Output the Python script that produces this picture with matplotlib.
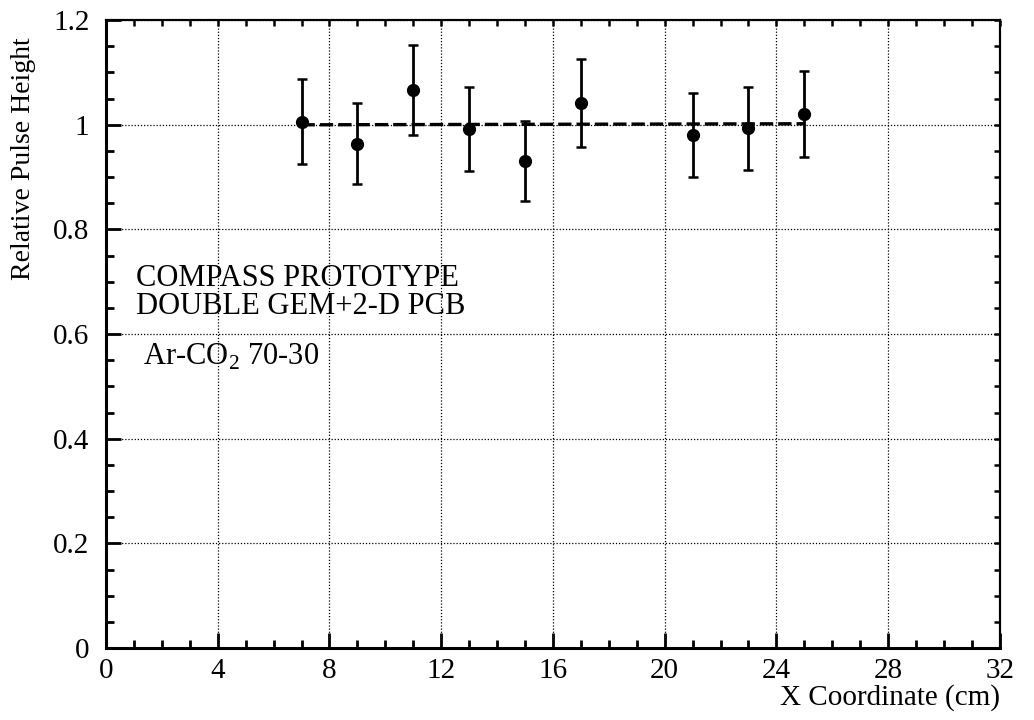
import matplotlib
matplotlib.use("Agg")
import matplotlib.pyplot as plt
from matplotlib.ticker import MultipleLocator, FixedFormatter, FixedLocator

# Data
x_cm = [7, 9, 11, 13, 15, 17, 21, 23, 25]
pulse = [1.006, 0.964, 1.067, 0.992, 0.931, 1.041, 0.980, 0.993, 1.020]
err = [0.081, 0.078, 0.086, 0.081, 0.076, 0.084, 0.080, 0.080, 0.082]
fit_x = [7, 25]
fit_y = [1.000, 1.002]

xticks = [0, 4, 8, 12, 16, 20, 24, 28, 32]
yticks = [0, 0.2, 0.4, 0.6, 0.8, 1.0, 1.2]
ytick_labels = ["0", "0.2", "0.4", "0.6", "0.8", "1", "1.2"]

plt.rcParams['font.family'] = ['Liberation Serif', 'DejaVu Serif']
plt.rcParams['mathtext.fontset'] = 'custom'
plt.rcParams['mathtext.rm'] = 'Liberation Serif'

fig = plt.figure(figsize=(10.34, 7.2), dpi=100)
ax = fig.add_axes([0.1025, 0.1, 0.8645, 0.872])

ax.set_xlim(0, 32)
ax.set_ylim(0, 1.2)

ax.grid(True, which='major', linestyle=(0, (1, 1.5)), color='black', linewidth=0.9)

ax.errorbar(x_cm, pulse, yerr=err, fmt='o', color='black', markersize=8.5,
            elinewidth=2, capsize=3.5, capthick=1.8, zorder=3)
ax.plot(fit_x, fit_y, linestyle=(0, (4, 1.5)), color='black', linewidth=2.4, zorder=2)

ax.xaxis.set_major_locator(FixedLocator(xticks))
ax.xaxis.set_minor_locator(MultipleLocator(1))
ax.yaxis.set_major_locator(FixedLocator(yticks))
ax.yaxis.set_major_formatter(FixedFormatter(ytick_labels))
ax.yaxis.set_minor_locator(MultipleLocator(0.05))

ax.tick_params(axis='both', which='major', direction='in', length=11, width=2,
               labelsize=21, top=False, right=False)
ax.tick_params(axis='both', which='minor', direction='in', length=6, width=2,
               top=False, right=False)
ax.tick_params(axis='x', which='major', pad=7)
ax.tick_params(axis='y', which='major', pad=12)

for s in ['left', 'bottom']:
    ax.spines[s].set_linewidth(2.2)
for s in ['top', 'right']:
    ax.spines[s].set_linewidth(1.5)

# Top and right small ticks
secx = ax.secondary_xaxis('top')
secx.set_xticks(range(0, 33))
secx.tick_params(direction='in', length=4, width=1.8, labeltop=False)
secx.spines['top'].set_linewidth(1.5)
secy = ax.secondary_yaxis('right')
secy.set_yticks([i * 0.05 for i in range(25)])
secy.tick_params(direction='in', length=4, width=1.8, labelright=False)
secy.spines['right'].set_linewidth(1.5)

ax.set_ylabel("Relative Pulse Height", fontsize=20)
ax.yaxis.set_label_coords(-0.078, 0.78)
ax.set_xlabel("X Coordinate (cm)", fontsize=21, loc='right', labelpad=0)

ax.text(1.07, 0.707, "COMPASS PROTOTYPE", fontsize=22, ha='left', va='center')
ax.text(1.07, 0.652, "DOUBLE GEM+2-D PCB", fontsize=22, ha='left', va='center')
ax.text(1.32, 0.556, r"Ar-CO$_{\mathregular{2}}$ 70-30", fontsize=22, ha='left', va='center')

fig.savefig("out.png", dpi=100)
